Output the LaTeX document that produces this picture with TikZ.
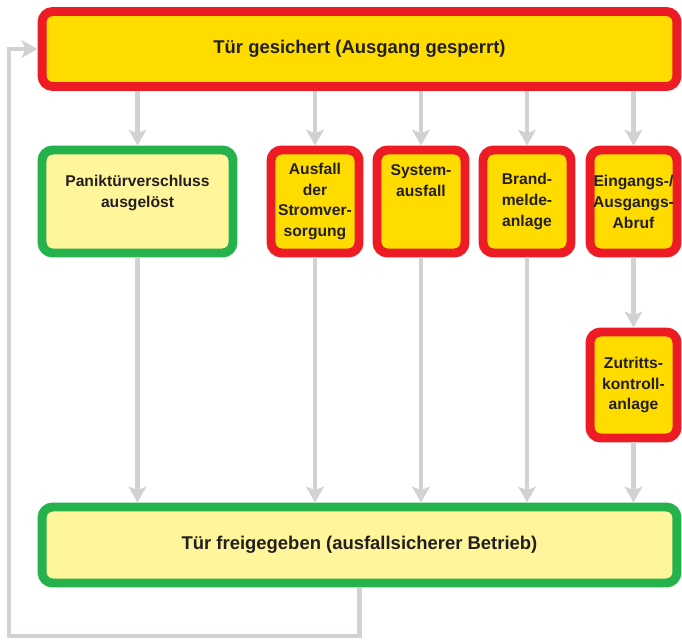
\documentclass[tikz,border=0pt]{standalone}
\usepackage{fontspec}
\setmainfont{Liberation Sans}
\usetikzlibrary{arrows.meta}

\definecolor{alarmred}{HTML}{ED1C24}
\definecolor{lockyellow}{HTML}{FFDC00}
\definecolor{safegreen}{HTML}{25B14B}
\definecolor{openyellow}{HTML}{FFF59B}
\definecolor{flowgray}{HTML}{D1D2D4}
\definecolor{txtgray}{HTML}{231F20}

\tikzset{
	box/.style={draw, line width=5.1pt, rounded corners=6pt, align=center,
		text=txtgray, font=\bfseries\fontsize{8.9}{11.9}\selectfont, inner sep=0pt},
	lockbox/.style={box, draw=alarmred, fill=lockyellow},
	openbox/.style={box, draw=safegreen, fill=openyellow},
	bigtext/.style={font=\bfseries\fontsize{10.5}{12.6}\selectfont},
	flow/.style={draw=flowgray, line width=2.8pt, -{Stealth[length=9pt, width=10pt, inset=2pt]}}
}

\begin{document}
\begin{tikzpicture}[x=0.02cm, y=-0.02cm]
	\useasboundingbox (0,0) rectangle (682,639);

	% top and bottom state
	\node[lockbox, bigtext, minimum width=12.7cm, minimum height=1.5cm] (gesichert) at (359.5,49) {Tür gesichert (Ausgang gesperrt)};
	\node[openbox, bigtext, minimum width=12.7cm, minimum height=1.52cm] (frei) at (359.5,545) {Tür freigegeben (ausfallsicherer Betrieb)};

	% events
	\node[openbox, minimum width=3.82cm, minimum height=2.06cm] (panik) at (137.5,201.5) {Paniktürverschluss\\ausgelöst\\~};
	\node[lockbox, minimum width=1.76cm, minimum height=2.06cm] (strom) at (315,201.5) {Ausfall\\der\\Stromver-\\sorgung};
	\node[lockbox, minimum width=1.76cm, minimum height=2.06cm] (system) at (421,201.5) {System-\\ausfall\\~\\~};
	\node[lockbox, minimum width=1.76cm, minimum height=2.06cm] (brand) at (527,201.5) {Brand-\\melde-\\anlage};
	\node[lockbox, minimum width=1.74cm, minimum height=2.06cm] (abruf) at (633.5,201.5) {Eingangs-/\\Ausgangs-\\Abruf};
	\node[lockbox, minimum width=1.74cm, minimum height=2.12cm] (zutritt) at (633.5,385) {Zutritts-\\kontroll-\\anlage};

	% arrows
	\foreach \ev in {panik, strom, system, brand, abruf}
		\draw[flow] (\ev.north |- gesichert.south) -- (\ev.north);
	\foreach \ev in {panik, strom, system, brand}
		\draw[flow] (\ev.south) -- (\ev.south |- frei.north);
	\draw[flow] (abruf) -- (zutritt);
	\draw[flow] (zutritt) -- (zutritt.south |- frei.north);

	% back to locked
	\coordinate (ecke) at (9,636);
	\draw[flow] (frei.south) |- (ecke) |- (gesichert.west);
\end{tikzpicture}
\end{document}
